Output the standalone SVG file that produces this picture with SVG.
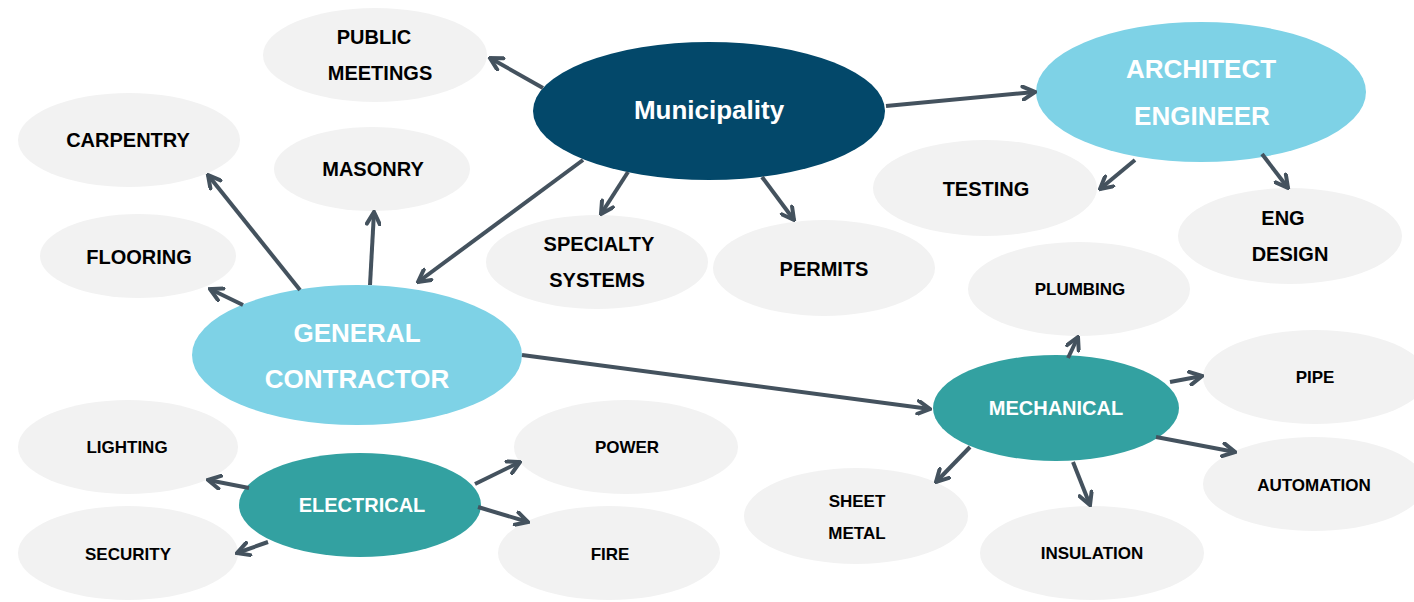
<svg xmlns="http://www.w3.org/2000/svg" width="1414" height="602" viewBox="0 0 1414 602">
<style>
.leaf{fill:#f2f2f2}
.navy{fill:#03486a}
.light{fill:#7ed2e6}
.teal{fill:#33a1a1}
text{font-family:"Liberation Sans",Arial,sans-serif;font-weight:bold;text-anchor:middle}
.t20{font-size:20px;fill:#000}
.t17{font-size:17px;fill:#000}
.w26{font-size:26px;fill:#fff}
.w20{font-size:20px;fill:#fff}
.conn line{stroke:#44525e;stroke-width:4;marker-end:url(#arr)}
</style>
<defs>
<marker id="arr" viewBox="0 0 16 16" refX="14" refY="8" markerWidth="16" markerHeight="16" markerUnits="userSpaceOnUse" orient="auto">
<path d="M2,1.5 L14,8 L2,14.5" fill="none" stroke="#44525e" stroke-width="4" stroke-linecap="round" stroke-linejoin="miter"/>
</marker>
</defs>
<rect width="1414" height="602" fill="#fff"/>
<g id="public-meetings"><ellipse class="leaf" cx="375" cy="55" rx="112" ry="47"/><text class="t20" x="374" y="44">PUBLIC</text><text class="t20" x="380" y="80">MEETINGS</text></g>
<g id="carpentry"><ellipse class="leaf" cx="129" cy="140" rx="111" ry="47"/><text class="t20" x="128" y="147">CARPENTRY</text></g>
<g id="masonry"><ellipse class="leaf" cx="372" cy="169" rx="98" ry="42"/><text class="t20" x="373" y="176">MASONRY</text></g>
<g id="testing"><ellipse class="leaf" cx="985" cy="188" rx="112" ry="48"/><text class="t20" x="986" y="196">TESTING</text></g>
<g id="eng-design"><ellipse class="leaf" cx="1290" cy="236" rx="112" ry="48"/><text class="t20" x="1283" y="225">ENG</text><text class="t20" x="1290" y="261">DESIGN</text></g>
<g id="flooring"><ellipse class="leaf" cx="138" cy="256" rx="98" ry="42"/><text class="t20" x="139" y="264">FLOORING</text></g>
<g id="specialty-systems"><ellipse class="leaf" cx="597" cy="262" rx="111" ry="47"/><text class="t20" x="599" y="251">SPECIALTY</text><text class="t20" x="597" y="287">SYSTEMS</text></g>
<g id="permits"><ellipse class="leaf" cx="824" cy="268" rx="111" ry="48"/><text class="t20" x="824" y="276">PERMITS</text></g>
<g id="plumbing"><ellipse class="leaf" cx="1079" cy="289" rx="111" ry="47"/><text class="t17" x="1080" y="295">PLUMBING</text></g>
<g id="pipe"><ellipse class="leaf" cx="1315" cy="377" rx="112" ry="47"/><text class="t17" x="1315" y="383">PIPE</text></g>
<g id="lighting"><ellipse class="leaf" cx="128" cy="447" rx="110" ry="47"/><text class="t17" x="127" y="453">LIGHTING</text></g>
<g id="power"><ellipse class="leaf" cx="626" cy="447" rx="112" ry="47"/><text class="t17" x="627" y="453">POWER</text></g>
<g id="automation"><ellipse class="leaf" cx="1314" cy="484" rx="111" ry="47"/><text class="t17" x="1314" y="491">AUTOMATION</text></g>
<g id="sheet-metal"><ellipse class="leaf" cx="856" cy="516" rx="112" ry="48"/><text class="t17" x="857" y="507">SHEET</text><text class="t17" x="857" y="539">METAL</text></g>
<g id="security"><ellipse class="leaf" cx="128" cy="553" rx="110" ry="47"/><text class="t17" x="128" y="560">SECURITY</text></g>
<g id="fire"><ellipse class="leaf" cx="609" cy="553" rx="111" ry="47"/><text class="t17" x="610" y="560">FIRE</text></g>
<g id="insulation"><ellipse class="leaf" cx="1092" cy="553" rx="112" ry="47"/><text class="t17" x="1092" y="559">INSULATION</text></g>
<g id="municipality"><ellipse class="navy" cx="709" cy="111" rx="176" ry="69"/><text class="w26" x="709" y="119">Municipality</text></g>
<g id="architect-engineer"><ellipse class="light" cx="1201" cy="92" rx="165" ry="70"/><text class="w26" x="1201" y="78">ARCHITECT</text><text class="w26" x="1202" y="125">ENGINEER</text></g>
<g id="general-contractor"><ellipse class="light" cx="357" cy="355" rx="165" ry="70"/><text class="w26" x="357" y="342">GENERAL</text><text class="w26" x="357" y="388">CONTRACTOR</text></g>
<g id="mechanical"><ellipse class="teal" cx="1056" cy="408" rx="123" ry="53"/><text class="w20" x="1056" y="415">MECHANICAL</text></g>
<g id="electrical"><ellipse class="teal" cx="360" cy="505" rx="121" ry="52"/><text class="w20" x="362" y="512">ELECTRICAL</text></g>
<g class="conn" id="connectors">
<line x1="543" y1="88" x2="490" y2="58"/>
<line x1="886" y1="106" x2="1035" y2="92"/>
<line x1="583" y1="160" x2="418" y2="282"/>
<line x1="628" y1="172" x2="601" y2="214"/>
<line x1="762" y1="177" x2="794" y2="220"/>
<line x1="1135" y1="160" x2="1100" y2="189"/>
<line x1="1262" y1="154" x2="1288" y2="188"/>
<line x1="300" y1="290" x2="208" y2="175"/>
<line x1="370" y1="285" x2="374" y2="212"/>
<line x1="243" y1="305" x2="210" y2="289"/>
<line x1="522" y1="355" x2="930" y2="409"/>
<line x1="1068" y1="358" x2="1078" y2="337"/>
<line x1="1170" y1="382" x2="1202" y2="376"/>
<line x1="1156" y1="437" x2="1235" y2="452"/>
<line x1="1073" y1="462" x2="1090" y2="505"/>
<line x1="970" y1="447" x2="936" y2="482"/>
<line x1="249" y1="488" x2="208" y2="480"/>
<line x1="268" y1="542" x2="237" y2="553"/>
<line x1="475" y1="484" x2="520" y2="462"/>
<line x1="478" y1="507" x2="528" y2="522"/>
</g>
</svg>
